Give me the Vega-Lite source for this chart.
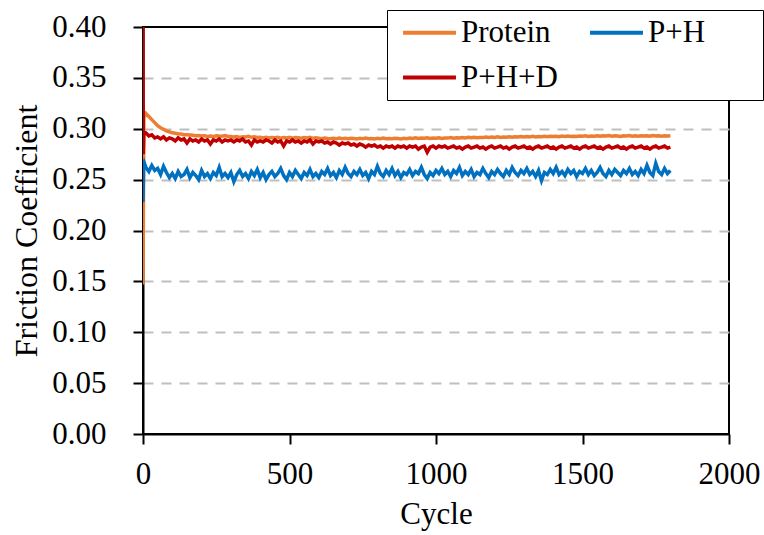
{
"$schema": "https://vega.github.io/schema/vega-lite/v6.json",
"width": 586, "height": 407,
"autosize": "none",
"padding": {"left": 143, "top": 27, "right": 35, "bottom": 101},
"background": "white",
"config": {"view": {"stroke": "black", "strokeWidth": 2}, "font": "Liberation Serif"},
"data": {"values": [
{"cycle":0,"series":"Protein","cof":0.147},{"cycle":3,"series":"Protein","cof":0.311},{"cycle":10,"series":"Protein","cof":0.315},{"cycle":20,"series":"Protein","cof":0.312},{"cycle":30,"series":"Protein","cof":0.309},{"cycle":40,"series":"Protein","cof":0.306},{"cycle":50,"series":"Protein","cof":0.303},{"cycle":60,"series":"Protein","cof":0.301},{"cycle":70,"series":"Protein","cof":0.2995},{"cycle":80,"series":"Protein","cof":0.298},{"cycle":90,"series":"Protein","cof":0.297},{"cycle":100,"series":"Protein","cof":0.296},{"cycle":110,"series":"Protein","cof":0.2955},{"cycle":120,"series":"Protein","cof":0.295},{"cycle":130,"series":"Protein","cof":0.2948},{"cycle":140,"series":"Protein","cof":0.2942},{"cycle":150,"series":"Protein","cof":0.294},{"cycle":160,"series":"Protein","cof":0.2938},{"cycle":170,"series":"Protein","cof":0.2935},{"cycle":180,"series":"Protein","cof":0.2932},{"cycle":190,"series":"Protein","cof":0.2934},{"cycle":200,"series":"Protein","cof":0.293},
{"cycle":210,"series":"Protein","cof":0.2932},{"cycle":220,"series":"Protein","cof":0.2925},{"cycle":230,"series":"Protein","cof":0.2929},{"cycle":240,"series":"Protein","cof":0.2923},{"cycle":250,"series":"Protein","cof":0.2931},{"cycle":260,"series":"Protein","cof":0.2928},{"cycle":270,"series":"Protein","cof":0.2926},{"cycle":280,"series":"Protein","cof":0.2933},{"cycle":290,"series":"Protein","cof":0.2924},{"cycle":300,"series":"Protein","cof":0.2924},
{"cycle":310,"series":"Protein","cof":0.2918},{"cycle":320,"series":"Protein","cof":0.2923},{"cycle":330,"series":"Protein","cof":0.2915},{"cycle":340,"series":"Protein","cof":0.2922},{"cycle":350,"series":"Protein","cof":0.2919},{"cycle":360,"series":"Protein","cof":0.2925},{"cycle":370,"series":"Protein","cof":0.2916},{"cycle":380,"series":"Protein","cof":0.2921},{"cycle":390,"series":"Protein","cof":0.2914},{"cycle":400,"series":"Protein","cof":0.2917},
{"cycle":410,"series":"Protein","cof":0.291},{"cycle":420,"series":"Protein","cof":0.2916},{"cycle":430,"series":"Protein","cof":0.2909},{"cycle":440,"series":"Protein","cof":0.2914},{"cycle":450,"series":"Protein","cof":0.2911},{"cycle":460,"series":"Protein","cof":0.2917},{"cycle":470,"series":"Protein","cof":0.2908},{"cycle":480,"series":"Protein","cof":0.2913},{"cycle":490,"series":"Protein","cof":0.291},{"cycle":500,"series":"Protein","cof":0.2915},
{"cycle":510,"series":"Protein","cof":0.2908},{"cycle":520,"series":"Protein","cof":0.2914},{"cycle":530,"series":"Protein","cof":0.2911},{"cycle":540,"series":"Protein","cof":0.2907},{"cycle":550,"series":"Protein","cof":0.2913},{"cycle":560,"series":"Protein","cof":0.291},{"cycle":570,"series":"Protein","cof":0.2915},{"cycle":580,"series":"Protein","cof":0.2906},{"cycle":590,"series":"Protein","cof":0.2911},{"cycle":600,"series":"Protein","cof":0.2908},
{"cycle":610,"series":"Protein","cof":0.2903},{"cycle":620,"series":"Protein","cof":0.2909},{"cycle":630,"series":"Protein","cof":0.2904},{"cycle":640,"series":"Protein","cof":0.2901},{"cycle":650,"series":"Protein","cof":0.2907},{"cycle":660,"series":"Protein","cof":0.2903},{"cycle":670,"series":"Protein","cof":0.2908},{"cycle":680,"series":"Protein","cof":0.2902},{"cycle":690,"series":"Protein","cof":0.2906},{"cycle":700,"series":"Protein","cof":0.2901},
{"cycle":710,"series":"Protein","cof":0.2907},{"cycle":720,"series":"Protein","cof":0.2904},{"cycle":730,"series":"Protein","cof":0.29},{"cycle":740,"series":"Protein","cof":0.2906},{"cycle":750,"series":"Protein","cof":0.2903},{"cycle":760,"series":"Protein","cof":0.2909},{"cycle":770,"series":"Protein","cof":0.2902},{"cycle":780,"series":"Protein","cof":0.2905},{"cycle":790,"series":"Protein","cof":0.29},{"cycle":800,"series":"Protein","cof":0.2906},
{"cycle":810,"series":"Protein","cof":0.2903},{"cycle":820,"series":"Protein","cof":0.2908},{"cycle":830,"series":"Protein","cof":0.2901},{"cycle":840,"series":"Protein","cof":0.2905},{"cycle":850,"series":"Protein","cof":0.2902},{"cycle":860,"series":"Protein","cof":0.2907},{"cycle":870,"series":"Protein","cof":0.2904},{"cycle":880,"series":"Protein","cof":0.29},{"cycle":890,"series":"Protein","cof":0.2906},{"cycle":900,"series":"Protein","cof":0.2903},
{"cycle":910,"series":"Protein","cof":0.2909},{"cycle":920,"series":"Protein","cof":0.2905},{"cycle":930,"series":"Protein","cof":0.2911},{"cycle":940,"series":"Protein","cof":0.2904},{"cycle":950,"series":"Protein","cof":0.2908},{"cycle":960,"series":"Protein","cof":0.2906},{"cycle":970,"series":"Protein","cof":0.2912},{"cycle":980,"series":"Protein","cof":0.2905},{"cycle":990,"series":"Protein","cof":0.2909},{"cycle":1000,"series":"Protein","cof":0.2907},
{"cycle":1010,"series":"Protein","cof":0.2911},{"cycle":1020,"series":"Protein","cof":0.2905},{"cycle":1030,"series":"Protein","cof":0.291},{"cycle":1040,"series":"Protein","cof":0.2908},{"cycle":1050,"series":"Protein","cof":0.2913},{"cycle":1060,"series":"Protein","cof":0.2907},{"cycle":1070,"series":"Protein","cof":0.2911},{"cycle":1080,"series":"Protein","cof":0.2909},{"cycle":1090,"series":"Protein","cof":0.2914},{"cycle":1100,"series":"Protein","cof":0.291},
{"cycle":1110,"series":"Protein","cof":0.2916},{"cycle":1120,"series":"Protein","cof":0.2912},{"cycle":1130,"series":"Protein","cof":0.2917},{"cycle":1140,"series":"Protein","cof":0.2911},{"cycle":1150,"series":"Protein","cof":0.2915},{"cycle":1160,"series":"Protein","cof":0.2913},{"cycle":1170,"series":"Protein","cof":0.2918},{"cycle":1180,"series":"Protein","cof":0.2914},{"cycle":1190,"series":"Protein","cof":0.2919},{"cycle":1200,"series":"Protein","cof":0.2915},
{"cycle":1210,"series":"Protein","cof":0.292},{"cycle":1220,"series":"Protein","cof":0.2914},{"cycle":1230,"series":"Protein","cof":0.2918},{"cycle":1240,"series":"Protein","cof":0.2916},{"cycle":1250,"series":"Protein","cof":0.2921},{"cycle":1260,"series":"Protein","cof":0.2917},{"cycle":1270,"series":"Protein","cof":0.2922},{"cycle":1280,"series":"Protein","cof":0.2918},{"cycle":1290,"series":"Protein","cof":0.2923},{"cycle":1300,"series":"Protein","cof":0.2919},
{"cycle":1310,"series":"Protein","cof":0.2924},{"cycle":1320,"series":"Protein","cof":0.292},{"cycle":1330,"series":"Protein","cof":0.2925},{"cycle":1340,"series":"Protein","cof":0.2919},{"cycle":1350,"series":"Protein","cof":0.2923},{"cycle":1360,"series":"Protein","cof":0.2921},{"cycle":1370,"series":"Protein","cof":0.2926},{"cycle":1380,"series":"Protein","cof":0.2922},{"cycle":1390,"series":"Protein","cof":0.2927},{"cycle":1400,"series":"Protein","cof":0.2923},
{"cycle":1410,"series":"Protein","cof":0.2926},{"cycle":1420,"series":"Protein","cof":0.2922},{"cycle":1430,"series":"Protein","cof":0.2928},{"cycle":1440,"series":"Protein","cof":0.2924},{"cycle":1450,"series":"Protein","cof":0.2929},{"cycle":1460,"series":"Protein","cof":0.2925},{"cycle":1470,"series":"Protein","cof":0.2927},{"cycle":1480,"series":"Protein","cof":0.2923},{"cycle":1490,"series":"Protein","cof":0.2929},{"cycle":1500,"series":"Protein","cof":0.2926},
{"cycle":1510,"series":"Protein","cof":0.293},{"cycle":1520,"series":"Protein","cof":0.2925},{"cycle":1530,"series":"Protein","cof":0.2929},{"cycle":1540,"series":"Protein","cof":0.2927},{"cycle":1550,"series":"Protein","cof":0.2932},{"cycle":1560,"series":"Protein","cof":0.2926},{"cycle":1570,"series":"Protein","cof":0.293},{"cycle":1580,"series":"Protein","cof":0.2928},{"cycle":1590,"series":"Protein","cof":0.2933},{"cycle":1600,"series":"Protein","cof":0.2927},
{"cycle":1610,"series":"Protein","cof":0.2931},{"cycle":1620,"series":"Protein","cof":0.2929},{"cycle":1630,"series":"Protein","cof":0.2925},{"cycle":1640,"series":"Protein","cof":0.2931},{"cycle":1650,"series":"Protein","cof":0.2928},{"cycle":1660,"series":"Protein","cof":0.2933},{"cycle":1670,"series":"Protein","cof":0.2927},{"cycle":1680,"series":"Protein","cof":0.293},{"cycle":1690,"series":"Protein","cof":0.2926},{"cycle":1700,"series":"Protein","cof":0.2932},
{"cycle":1710,"series":"Protein","cof":0.2928},{"cycle":1720,"series":"Protein","cof":0.2931},{"cycle":1730,"series":"Protein","cof":0.2927},{"cycle":1740,"series":"Protein","cof":0.2933},{"cycle":1750,"series":"Protein","cof":0.2929},{"cycle":1760,"series":"Protein","cof":0.2932},{"cycle":1770,"series":"Protein","cof":0.2926},{"cycle":1780,"series":"Protein","cof":0.293},{"cycle":1790,"series":"Protein","cof":0.2928},{"cycle":1800,"series":"Protein","cof":0.2931},

{"cycle":0,"series":"P+H","cof":0.228},{"cycle":2,"series":"P+H","cof":0.262},{"cycle":5,"series":"P+H","cof":0.266},{"cycle":10,"series":"P+H","cof":0.262},{"cycle":20,"series":"P+H","cof":0.258},{"cycle":30,"series":"P+H","cof":0.264},{"cycle":40,"series":"P+H","cof":0.259},{"cycle":50,"series":"P+H","cof":0.261},{"cycle":60,"series":"P+H","cof":0.255},{"cycle":70,"series":"P+H","cof":0.263},{"cycle":80,"series":"P+H","cof":0.257},{"cycle":90,"series":"P+H","cof":0.252},{"cycle":100,"series":"P+H","cof":0.256},
{"cycle":110,"series":"P+H","cof":0.251},{"cycle":120,"series":"P+H","cof":0.258},{"cycle":130,"series":"P+H","cof":0.253},{"cycle":140,"series":"P+H","cof":0.255},{"cycle":150,"series":"P+H","cof":0.26},{"cycle":160,"series":"P+H","cof":0.252},{"cycle":170,"series":"P+H","cof":0.257},{"cycle":180,"series":"P+H","cof":0.254},{"cycle":190,"series":"P+H","cof":0.25},{"cycle":200,"series":"P+H","cof":0.259},
{"cycle":210,"series":"P+H","cof":0.253},{"cycle":220,"series":"P+H","cof":0.256},{"cycle":230,"series":"P+H","cof":0.251},{"cycle":240,"series":"P+H","cof":0.257},{"cycle":250,"series":"P+H","cof":0.254},{"cycle":260,"series":"P+H","cof":0.262},{"cycle":270,"series":"P+H","cof":0.253},{"cycle":280,"series":"P+H","cof":0.256},{"cycle":290,"series":"P+H","cof":0.252},{"cycle":300,"series":"P+H","cof":0.257},
{"cycle":310,"series":"P+H","cof":0.248},{"cycle":320,"series":"P+H","cof":0.255},{"cycle":330,"series":"P+H","cof":0.259},{"cycle":340,"series":"P+H","cof":0.253},{"cycle":350,"series":"P+H","cof":0.256},{"cycle":360,"series":"P+H","cof":0.251},{"cycle":370,"series":"P+H","cof":0.258},{"cycle":380,"series":"P+H","cof":0.254},{"cycle":390,"series":"P+H","cof":0.26},{"cycle":400,"series":"P+H","cof":0.252},
{"cycle":410,"series":"P+H","cof":0.257},{"cycle":420,"series":"P+H","cof":0.25},{"cycle":430,"series":"P+H","cof":0.255},{"cycle":440,"series":"P+H","cof":0.258},{"cycle":450,"series":"P+H","cof":0.253},{"cycle":460,"series":"P+H","cof":0.256},{"cycle":470,"series":"P+H","cof":0.261},{"cycle":480,"series":"P+H","cof":0.254},{"cycle":490,"series":"P+H","cof":0.25},{"cycle":500,"series":"P+H","cof":0.257},
{"cycle":510,"series":"P+H","cof":0.253},{"cycle":520,"series":"P+H","cof":0.259},{"cycle":530,"series":"P+H","cof":0.255},{"cycle":540,"series":"P+H","cof":0.251},{"cycle":550,"series":"P+H","cof":0.257},{"cycle":560,"series":"P+H","cof":0.254},{"cycle":570,"series":"P+H","cof":0.26},{"cycle":580,"series":"P+H","cof":0.253},{"cycle":590,"series":"P+H","cof":0.256},{"cycle":600,"series":"P+H","cof":0.252},
{"cycle":610,"series":"P+H","cof":0.258},{"cycle":620,"series":"P+H","cof":0.255},{"cycle":630,"series":"P+H","cof":0.261},{"cycle":640,"series":"P+H","cof":0.254},{"cycle":650,"series":"P+H","cof":0.257},{"cycle":660,"series":"P+H","cof":0.252},{"cycle":670,"series":"P+H","cof":0.259},{"cycle":680,"series":"P+H","cof":0.255},{"cycle":690,"series":"P+H","cof":0.262},{"cycle":700,"series":"P+H","cof":0.256},
{"cycle":710,"series":"P+H","cof":0.253},{"cycle":720,"series":"P+H","cof":0.258},{"cycle":730,"series":"P+H","cof":0.255},{"cycle":740,"series":"P+H","cof":0.26},{"cycle":750,"series":"P+H","cof":0.254},{"cycle":760,"series":"P+H","cof":0.257},{"cycle":770,"series":"P+H","cof":0.251},{"cycle":780,"series":"P+H","cof":0.258},{"cycle":790,"series":"P+H","cof":0.255},{"cycle":800,"series":"P+H","cof":0.263},
{"cycle":810,"series":"P+H","cof":0.256},{"cycle":820,"series":"P+H","cof":0.253},{"cycle":830,"series":"P+H","cof":0.259},{"cycle":840,"series":"P+H","cof":0.255},{"cycle":850,"series":"P+H","cof":0.261},{"cycle":860,"series":"P+H","cof":0.254},{"cycle":870,"series":"P+H","cof":0.258},{"cycle":880,"series":"P+H","cof":0.252},{"cycle":890,"series":"P+H","cof":0.257},{"cycle":900,"series":"P+H","cof":0.255},
{"cycle":910,"series":"P+H","cof":0.26},{"cycle":920,"series":"P+H","cof":0.254},{"cycle":930,"series":"P+H","cof":0.258},{"cycle":940,"series":"P+H","cof":0.256},{"cycle":950,"series":"P+H","cof":0.262},{"cycle":960,"series":"P+H","cof":0.255},{"cycle":970,"series":"P+H","cof":0.251},{"cycle":980,"series":"P+H","cof":0.257},{"cycle":990,"series":"P+H","cof":0.254},{"cycle":1000,"series":"P+H","cof":0.259},
{"cycle":1010,"series":"P+H","cof":0.256},{"cycle":1020,"series":"P+H","cof":0.261},{"cycle":1030,"series":"P+H","cof":0.255},{"cycle":1040,"series":"P+H","cof":0.258},{"cycle":1050,"series":"P+H","cof":0.253},{"cycle":1060,"series":"P+H","cof":0.259},{"cycle":1070,"series":"P+H","cof":0.256},{"cycle":1080,"series":"P+H","cof":0.262},{"cycle":1090,"series":"P+H","cof":0.254},{"cycle":1100,"series":"P+H","cof":0.258},
{"cycle":1110,"series":"P+H","cof":0.255},{"cycle":1120,"series":"P+H","cof":0.26},{"cycle":1130,"series":"P+H","cof":0.253},{"cycle":1140,"series":"P+H","cof":0.257},{"cycle":1150,"series":"P+H","cof":0.255},{"cycle":1160,"series":"P+H","cof":0.261},{"cycle":1170,"series":"P+H","cof":0.256},{"cycle":1180,"series":"P+H","cof":0.252},{"cycle":1190,"series":"P+H","cof":0.258},{"cycle":1200,"series":"P+H","cof":0.255},
{"cycle":1210,"series":"P+H","cof":0.26},{"cycle":1220,"series":"P+H","cof":0.256},{"cycle":1230,"series":"P+H","cof":0.253},{"cycle":1240,"series":"P+H","cof":0.259},{"cycle":1250,"series":"P+H","cof":0.255},{"cycle":1260,"series":"P+H","cof":0.262},{"cycle":1270,"series":"P+H","cof":0.257},{"cycle":1280,"series":"P+H","cof":0.254},{"cycle":1290,"series":"P+H","cof":0.259},{"cycle":1300,"series":"P+H","cof":0.256},
{"cycle":1310,"series":"P+H","cof":0.261},{"cycle":1320,"series":"P+H","cof":0.255},{"cycle":1330,"series":"P+H","cof":0.258},{"cycle":1340,"series":"P+H","cof":0.253},{"cycle":1350,"series":"P+H","cof":0.259},{"cycle":1360,"series":"P+H","cof":0.249},{"cycle":1370,"series":"P+H","cof":0.257},{"cycle":1380,"series":"P+H","cof":0.255},{"cycle":1390,"series":"P+H","cof":0.26},{"cycle":1400,"series":"P+H","cof":0.256},
{"cycle":1410,"series":"P+H","cof":0.262},{"cycle":1420,"series":"P+H","cof":0.255},{"cycle":1430,"series":"P+H","cof":0.258},{"cycle":1440,"series":"P+H","cof":0.254},{"cycle":1450,"series":"P+H","cof":0.26},{"cycle":1460,"series":"P+H","cof":0.256},{"cycle":1470,"series":"P+H","cof":0.259},{"cycle":1480,"series":"P+H","cof":0.253},{"cycle":1490,"series":"P+H","cof":0.258},{"cycle":1500,"series":"P+H","cof":0.256},
{"cycle":1510,"series":"P+H","cof":0.261},{"cycle":1520,"series":"P+H","cof":0.255},{"cycle":1530,"series":"P+H","cof":0.259},{"cycle":1540,"series":"P+H","cof":0.254},{"cycle":1550,"series":"P+H","cof":0.257},{"cycle":1560,"series":"P+H","cof":0.262},{"cycle":1570,"series":"P+H","cof":0.256},{"cycle":1580,"series":"P+H","cof":0.253},{"cycle":1590,"series":"P+H","cof":0.259},{"cycle":1600,"series":"P+H","cof":0.255},
{"cycle":1610,"series":"P+H","cof":0.26},{"cycle":1620,"series":"P+H","cof":0.257},{"cycle":1630,"series":"P+H","cof":0.254},{"cycle":1640,"series":"P+H","cof":0.259},{"cycle":1650,"series":"P+H","cof":0.256},{"cycle":1660,"series":"P+H","cof":0.261},{"cycle":1670,"series":"P+H","cof":0.255},{"cycle":1680,"series":"P+H","cof":0.258},{"cycle":1690,"series":"P+H","cof":0.254},{"cycle":1700,"series":"P+H","cof":0.26},
{"cycle":1710,"series":"P+H","cof":0.256},{"cycle":1720,"series":"P+H","cof":0.264},{"cycle":1730,"series":"P+H","cof":0.257},{"cycle":1740,"series":"P+H","cof":0.254},{"cycle":1750,"series":"P+H","cof":0.266},{"cycle":1760,"series":"P+H","cof":0.258},{"cycle":1770,"series":"P+H","cof":0.255},{"cycle":1780,"series":"P+H","cof":0.261},{"cycle":1790,"series":"P+H","cof":0.256},{"cycle":1800,"series":"P+H","cof":0.259},

{"cycle":0,"series":"P+H+D","cof":0.42},{"cycle":1,"series":"P+H+D","cof":0.275},{"cycle":3,"series":"P+H+D","cof":0.297},{"cycle":10,"series":"P+H+D","cof":0.296},{"cycle":20,"series":"P+H+D","cof":0.293},{"cycle":30,"series":"P+H+D","cof":0.294},{"cycle":40,"series":"P+H+D","cof":0.291},{"cycle":50,"series":"P+H+D","cof":0.292},{"cycle":60,"series":"P+H+D","cof":0.29},{"cycle":70,"series":"P+H+D","cof":0.292},{"cycle":80,"series":"P+H+D","cof":0.289},{"cycle":90,"series":"P+H+D","cof":0.291},{"cycle":100,"series":"P+H+D","cof":0.29},
{"cycle":110,"series":"P+H+D","cof":0.288},{"cycle":120,"series":"P+H+D","cof":0.291},{"cycle":130,"series":"P+H+D","cof":0.289},{"cycle":140,"series":"P+H+D","cof":0.29},{"cycle":150,"series":"P+H+D","cof":0.286},{"cycle":160,"series":"P+H+D","cof":0.29},{"cycle":170,"series":"P+H+D","cof":0.288},{"cycle":180,"series":"P+H+D","cof":0.289},{"cycle":190,"series":"P+H+D","cof":0.287},{"cycle":200,"series":"P+H+D","cof":0.29},
{"cycle":210,"series":"P+H+D","cof":0.288},{"cycle":220,"series":"P+H+D","cof":0.289},{"cycle":230,"series":"P+H+D","cof":0.285},{"cycle":240,"series":"P+H+D","cof":0.289},{"cycle":250,"series":"P+H+D","cof":0.288},{"cycle":260,"series":"P+H+D","cof":0.29},{"cycle":270,"series":"P+H+D","cof":0.287},{"cycle":280,"series":"P+H+D","cof":0.289},{"cycle":290,"series":"P+H+D","cof":0.288},{"cycle":300,"series":"P+H+D","cof":0.289},
{"cycle":310,"series":"P+H+D","cof":0.287},{"cycle":320,"series":"P+H+D","cof":0.289},{"cycle":330,"series":"P+H+D","cof":0.288},{"cycle":340,"series":"P+H+D","cof":0.29},{"cycle":350,"series":"P+H+D","cof":0.287},{"cycle":360,"series":"P+H+D","cof":0.288},{"cycle":370,"series":"P+H+D","cof":0.284},{"cycle":380,"series":"P+H+D","cof":0.289},{"cycle":390,"series":"P+H+D","cof":0.287},{"cycle":400,"series":"P+H+D","cof":0.288},
{"cycle":410,"series":"P+H+D","cof":0.287},{"cycle":420,"series":"P+H+D","cof":0.289},{"cycle":430,"series":"P+H+D","cof":0.288},{"cycle":440,"series":"P+H+D","cof":0.286},{"cycle":450,"series":"P+H+D","cof":0.289},{"cycle":460,"series":"P+H+D","cof":0.287},{"cycle":470,"series":"P+H+D","cof":0.288},{"cycle":480,"series":"P+H+D","cof":0.283},{"cycle":490,"series":"P+H+D","cof":0.288},{"cycle":500,"series":"P+H+D","cof":0.287},
{"cycle":510,"series":"P+H+D","cof":0.289},{"cycle":520,"series":"P+H+D","cof":0.287},{"cycle":530,"series":"P+H+D","cof":0.288},{"cycle":540,"series":"P+H+D","cof":0.286},{"cycle":550,"series":"P+H+D","cof":0.288},{"cycle":560,"series":"P+H+D","cof":0.287},{"cycle":570,"series":"P+H+D","cof":0.289},{"cycle":580,"series":"P+H+D","cof":0.285},{"cycle":590,"series":"P+H+D","cof":0.288},{"cycle":600,"series":"P+H+D","cof":0.287},
{"cycle":610,"series":"P+H+D","cof":0.288},{"cycle":620,"series":"P+H+D","cof":0.286},{"cycle":630,"series":"P+H+D","cof":0.287},{"cycle":640,"series":"P+H+D","cof":0.285},{"cycle":650,"series":"P+H+D","cof":0.287},{"cycle":660,"series":"P+H+D","cof":0.286},{"cycle":670,"series":"P+H+D","cof":0.284},{"cycle":680,"series":"P+H+D","cof":0.286},{"cycle":690,"series":"P+H+D","cof":0.285},{"cycle":700,"series":"P+H+D","cof":0.286},
{"cycle":710,"series":"P+H+D","cof":0.284},{"cycle":720,"series":"P+H+D","cof":0.285},{"cycle":730,"series":"P+H+D","cof":0.283},{"cycle":740,"series":"P+H+D","cof":0.285},{"cycle":750,"series":"P+H+D","cof":0.284},{"cycle":760,"series":"P+H+D","cof":0.282},{"cycle":770,"series":"P+H+D","cof":0.284},{"cycle":780,"series":"P+H+D","cof":0.283},{"cycle":790,"series":"P+H+D","cof":0.284},{"cycle":800,"series":"P+H+D","cof":0.282},
{"cycle":810,"series":"P+H+D","cof":0.283},{"cycle":820,"series":"P+H+D","cof":0.281},{"cycle":830,"series":"P+H+D","cof":0.283},{"cycle":840,"series":"P+H+D","cof":0.282},{"cycle":850,"series":"P+H+D","cof":0.283},{"cycle":860,"series":"P+H+D","cof":0.281},{"cycle":870,"series":"P+H+D","cof":0.283},{"cycle":880,"series":"P+H+D","cof":0.282},{"cycle":890,"series":"P+H+D","cof":0.283},{"cycle":900,"series":"P+H+D","cof":0.281},
{"cycle":910,"series":"P+H+D","cof":0.283},{"cycle":920,"series":"P+H+D","cof":0.282},{"cycle":930,"series":"P+H+D","cof":0.283},{"cycle":940,"series":"P+H+D","cof":0.28},{"cycle":950,"series":"P+H+D","cof":0.282},{"cycle":960,"series":"P+H+D","cof":0.283},{"cycle":970,"series":"P+H+D","cof":0.277},{"cycle":980,"series":"P+H+D","cof":0.282},{"cycle":990,"series":"P+H+D","cof":0.283},{"cycle":1000,"series":"P+H+D","cof":0.281},
{"cycle":1010,"series":"P+H+D","cof":0.283},{"cycle":1020,"series":"P+H+D","cof":0.282},{"cycle":1030,"series":"P+H+D","cof":0.283},{"cycle":1040,"series":"P+H+D","cof":0.281},{"cycle":1050,"series":"P+H+D","cof":0.282},{"cycle":1060,"series":"P+H+D","cof":0.283},{"cycle":1070,"series":"P+H+D","cof":0.281},{"cycle":1080,"series":"P+H+D","cof":0.282},{"cycle":1090,"series":"P+H+D","cof":0.28},{"cycle":1100,"series":"P+H+D","cof":0.282},
{"cycle":1110,"series":"P+H+D","cof":0.283},{"cycle":1120,"series":"P+H+D","cof":0.281},{"cycle":1130,"series":"P+H+D","cof":0.282},{"cycle":1140,"series":"P+H+D","cof":0.283},{"cycle":1150,"series":"P+H+D","cof":0.281},{"cycle":1160,"series":"P+H+D","cof":0.282},{"cycle":1170,"series":"P+H+D","cof":0.28},{"cycle":1180,"series":"P+H+D","cof":0.282},{"cycle":1190,"series":"P+H+D","cof":0.283},{"cycle":1200,"series":"P+H+D","cof":0.281},
{"cycle":1210,"series":"P+H+D","cof":0.282},{"cycle":1220,"series":"P+H+D","cof":0.283},{"cycle":1230,"series":"P+H+D","cof":0.281},{"cycle":1240,"series":"P+H+D","cof":0.282},{"cycle":1250,"series":"P+H+D","cof":0.28},{"cycle":1260,"series":"P+H+D","cof":0.282},{"cycle":1270,"series":"P+H+D","cof":0.283},{"cycle":1280,"series":"P+H+D","cof":0.281},{"cycle":1290,"series":"P+H+D","cof":0.282},{"cycle":1300,"series":"P+H+D","cof":0.283},
{"cycle":1310,"series":"P+H+D","cof":0.281},{"cycle":1320,"series":"P+H+D","cof":0.282},{"cycle":1330,"series":"P+H+D","cof":0.28},{"cycle":1340,"series":"P+H+D","cof":0.282},{"cycle":1350,"series":"P+H+D","cof":0.283},{"cycle":1360,"series":"P+H+D","cof":0.281},{"cycle":1370,"series":"P+H+D","cof":0.282},{"cycle":1380,"series":"P+H+D","cof":0.283},{"cycle":1390,"series":"P+H+D","cof":0.281},{"cycle":1400,"series":"P+H+D","cof":0.282},
{"cycle":1410,"series":"P+H+D","cof":0.28},{"cycle":1420,"series":"P+H+D","cof":0.282},{"cycle":1430,"series":"P+H+D","cof":0.283},{"cycle":1440,"series":"P+H+D","cof":0.281},{"cycle":1450,"series":"P+H+D","cof":0.282},{"cycle":1460,"series":"P+H+D","cof":0.283},{"cycle":1470,"series":"P+H+D","cof":0.281},{"cycle":1480,"series":"P+H+D","cof":0.282},{"cycle":1490,"series":"P+H+D","cof":0.28},{"cycle":1500,"series":"P+H+D","cof":0.282},
{"cycle":1510,"series":"P+H+D","cof":0.283},{"cycle":1520,"series":"P+H+D","cof":0.281},{"cycle":1530,"series":"P+H+D","cof":0.282},{"cycle":1540,"series":"P+H+D","cof":0.283},{"cycle":1550,"series":"P+H+D","cof":0.281},{"cycle":1560,"series":"P+H+D","cof":0.282},{"cycle":1570,"series":"P+H+D","cof":0.28},{"cycle":1580,"series":"P+H+D","cof":0.282},{"cycle":1590,"series":"P+H+D","cof":0.283},{"cycle":1600,"series":"P+H+D","cof":0.281},
{"cycle":1610,"series":"P+H+D","cof":0.282},{"cycle":1620,"series":"P+H+D","cof":0.283},{"cycle":1630,"series":"P+H+D","cof":0.281},{"cycle":1640,"series":"P+H+D","cof":0.282},{"cycle":1650,"series":"P+H+D","cof":0.28},{"cycle":1660,"series":"P+H+D","cof":0.282},{"cycle":1670,"series":"P+H+D","cof":0.283},{"cycle":1680,"series":"P+H+D","cof":0.281},{"cycle":1690,"series":"P+H+D","cof":0.282},{"cycle":1700,"series":"P+H+D","cof":0.283},
{"cycle":1710,"series":"P+H+D","cof":0.281},{"cycle":1720,"series":"P+H+D","cof":0.282},{"cycle":1730,"series":"P+H+D","cof":0.28},{"cycle":1740,"series":"P+H+D","cof":0.282},{"cycle":1750,"series":"P+H+D","cof":0.283},{"cycle":1760,"series":"P+H+D","cof":0.281},{"cycle":1770,"series":"P+H+D","cof":0.282},{"cycle":1780,"series":"P+H+D","cof":0.283},{"cycle":1790,"series":"P+H+D","cof":0.281},{"cycle":1800,"series":"P+H+D","cof":0.282}
]},
"mark": {"type": "line", "strokeWidth": 3.5, "clip": true},
"encoding": {
  "x": {"field": "cycle", "type": "quantitative",
    "scale": {"domain": [0, 2000], "nice": false},
    "axis": {"title": "Cycle", "values": [0, 500, 1000, 1500, 2000], "format": "d", "grid": false,
      "domainColor": "black", "domainWidth": 2, "tickColor": "black", "tickWidth": 2, "tickSize": 10,
      "labelFont": "Liberation Serif", "labelFontSize": 31, "labelColor": "black", "labelPadding": 15, "labelFlush": false,
      "titleFont": "Liberation Serif", "titleFontSize": 31, "titleFontWeight": "normal", "titleColor": "black", "titlePadding": 10}},
  "y": {"field": "cof", "type": "quantitative",
    "scale": {"domain": [0, 0.4], "nice": false, "zero": true},
    "axis": {"title": "Friction Coefficient", "values": [0, 0.05, 0.1, 0.15, 0.2, 0.25, 0.3, 0.35, 0.4], "format": ".2f",
      "grid": true, "gridColor": "#BFBFBF", "gridDash": [10, 8], "gridWidth": 2,
      "gridOpacity": {"condition": {"test": "datum.value >= 0.399 || datum.value <= 0.001", "value": 0}, "value": 1},
      "domainColor": "black", "domainWidth": 2, "tickColor": "black", "tickWidth": 2, "tickSize": 10,
      "labelFont": "Liberation Serif", "labelFontSize": 31, "labelColor": "black", "labelPadding": 27,
      "titleFont": "Liberation Serif", "titleFontSize": 32, "titleFontWeight": "normal", "titleColor": "black", "titlePadding": 8}},
  "color": {"field": "series", "type": "nominal",
    "scale": {"domain": ["Protein", "P+H+D", "P+H"], "range": ["#ED7D31", "#C00000", "#0070C0"]},
    "legend": {"title": "\u00a0", "titleOrient": "right", "titlePadding": 51, "titleFontSize": 31, "titleFont": "Liberation Serif",
      "orient": "none", "legendX": 244, "legendY": -17, "columns": 2, "gridAlign": "all",
      "symbolType": "M-2,0H2", "symbolStrokeWidth": 4, "symbolSize": 700, "symbolOffset": 20,
      "labelOffset": 16, "labelFont": "Liberation Serif", "labelFontSize": 31, "labelColor": "black", "labelLimit": 0,
      "columnPadding": 23, "rowPadding": 13, "padding": 7,
      "fillColor": "white", "strokeColor": "black"}}
}
}
